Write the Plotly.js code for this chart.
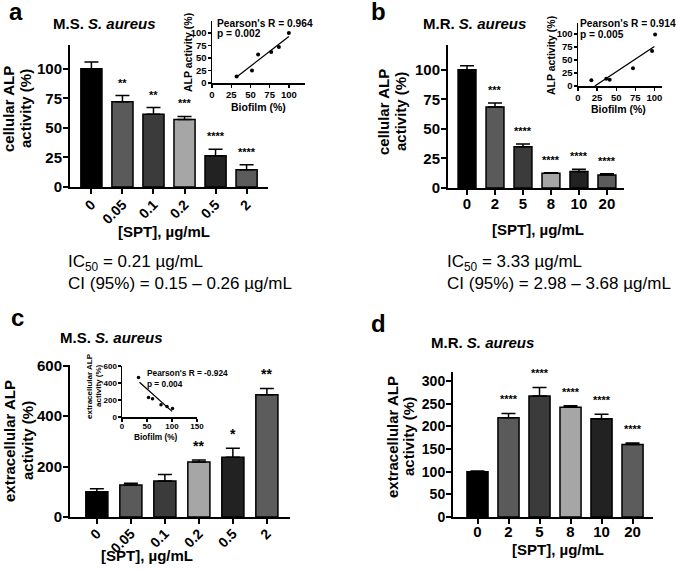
<!DOCTYPE html>
<html><head><meta charset="utf-8">
<script src="https://cdn.plot.ly/plotly-3.0.1.min.js"></script>
<style>body{margin:0;background:#fff}#chart{width:676px;height:570px}</style>
</head><body><div id="chart"></div>
<script>
// ---------- data ----------
const catsA = ['0','0.05','0.1','0.2','0.5','2'];
const catsB = ['0','2','5','8','10','20'];
const meanA = [100, 72, 61.5, 57, 26.5, 14.5];
const errA  = [5.7, 5.3, 5.6, 2.6, 5.4, 4.3];
const starsA = ['', '**', '**', '***', '****', '****'];
const meanB = [100, 68.5, 35, 12.4, 14, 11];
const errB  = [3.4, 3.5, 2.2, 0.6, 1.8, 1.1];
const starsB = ['', '***', '****', '****', '****', '****'];
const meanC = [100, 127, 143, 218, 237, 485];
const errC  = [12, 7, 26, 8, 36, 25];
const starsC = ['', '', '', '**', '*', '**'];
const meanD = [100, 219, 267, 242, 217, 160];
const errD  = [1.5, 9.5, 19, 3.5, 9.5, 3.5];
const starsD = ['', '****', '****', '****', '****', '****'];

const insetABiofilm = [32, 52, 60, 77, 87, 100];
const insetAALP     = [13, 25, 57, 62, 72, 100];
const insetAFitX = [32, 100], insetAFitY = [12, 93];
const insetBBiofilm = [17.5, 37, 41.5, 72, 97, 101];
const insetBALP     = [11, 14, 12, 34, 67, 99];
const insetBFitX = [22, 100], insetBFitY = [0, 76];
const insetCBiofilm = [33, 53, 61, 78, 90, 101];
const insetCALP     = [464, 230, 214, 144, 125, 101];
const insetCFitX = [35, 100], insetCFitY = [409, 66];

const barColors = ['#000000', '#5a5a5a', '#3b3b3b', '#a6a6a6', '#222222', '#5c5c5c'];

// ---------- helpers ----------
const W = 676, H = 570;
const PX = p => p / W;
const PY = p => 1 - p / H;
const FONT = 'Liberation Sans, Arial, sans-serif';

function barTrace(cats, mean, err, xa, ya, w) {
  return {
    type: 'bar', x: cats, y: mean, xaxis: xa, yaxis: ya, width: w,
    marker: {color: barColors, line: {color: '#000', width: 1.5}},
    error_y: {type: 'data', symmetric: false, array: err, arrayminus: err.map(() => 0),
              color: '#000', thickness: 1.5, width: 7},
    hoverinfo: 'skip', showlegend: false
  };
}
function scatterTraces(x, y, fx, fy, xa, ya, ms) {
  return [
    {type: 'scatter', mode: 'markers', x: x, y: y, xaxis: xa, yaxis: ya,
     marker: {color: '#000', size: ms}, showlegend: false, cliponaxis: false},
    {type: 'scatter', mode: 'lines', x: fx, y: fy, xaxis: xa, yaxis: ya,
     line: {color: '#000', width: 1.3}, showlegend: false}
  ];
}

const data = [
  barTrace(catsA, meanA, errA, 'x', 'y', 0.68),
  barTrace(catsB, meanB, errB, 'x2', 'y2', 0.64),
  barTrace(catsA, meanC, errC, 'x3', 'y3', 0.65),
  barTrace(catsB, meanD, errD, 'x4', 'y4', 0.68),
  ...scatterTraces(insetABiofilm, insetAALP, insetAFitX, insetAFitY, 'x5', 'y5', 4),
  ...scatterTraces(insetBBiofilm, insetBALP, insetBFitX, insetBFitY, 'x6', 'y6', 4),
  ...scatterTraces(insetCBiofilm, insetCALP, insetCFitX, insetCFitY, 'x7', 'y7', 3.5)
];

function mainX(d0, d1, r, anchor, angle, fs, so) {
  return {domain: [PX(d0), PX(d1)], range: r, anchor: anchor, type: 'category',
    showline: true, linewidth: 2, linecolor: '#000', ticks: 'outside', ticklen: 5, tickwidth: 2,
    tickcolor: '#000', showgrid: false, zeroline: false, tickangle: angle, fixedrange: true,
    ticklabelstandoff: so,
    tickfont: {family: FONT, size: fs, color: '#000', weight: 700}};
}
function mainY(p0, p1, r, anchor, tv, fs) {
  return {domain: [PY(p0), PY(p1)], range: r, anchor: anchor, tickvals: tv,
    showline: true, linewidth: 2, linecolor: '#000', ticks: 'outside', ticklen: 5, tickwidth: 2,
    tickcolor: '#000', showgrid: false, zeroline: false, fixedrange: true,
    ticklabelstandoff: -2,
    tickfont: {family: FONT, size: fs, color: '#000', weight: 700}};
}
function insetX(d0, d1, r, anchor, tv, fs, so) {
  return {domain: [PX(d0), PX(d1)], range: r, anchor: anchor, tickvals: tv,
    showline: true, linewidth: 1.5, linecolor: '#000', ticks: 'outside', ticklen: 3, tickwidth: 1.3,
    tickcolor: '#000', showgrid: false, zeroline: false, fixedrange: true,
    ticklabelstandoff: so,
    tickfont: {family: FONT, size: fs, color: '#000', weight: 700}};
}
function insetY(p0, p1, r, anchor, tv, fs) {
  return {domain: [PY(p0), PY(p1)], range: r, anchor: anchor, tickvals: tv,
    showline: true, linewidth: 1.5, linecolor: '#000', ticks: 'outside', ticklen: 3, tickwidth: 1.3,
    tickcolor: '#000', showgrid: false, zeroline: false, fixedrange: true,
    ticklabelstandoff: -1,
    tickfont: {family: FONT, size: fs, color: '#000', weight: 700}};
}

const annotations = [];
function txt(text, x, y, size, opts) {
  annotations.push(Object.assign({text: text, x: PX(x), y: PY(y), xref: 'paper', yref: 'paper',
    showarrow: false, xanchor: 'center', yanchor: 'middle', borderpad: 0,
    font: {family: FONT, size: size, color: '#000'}}, opts || {}));
}
function stars(mean, err, st, xa, ya, size, shift) {
  st.forEach((s, i) => {
    if (!s) return;
    annotations.push({text: '<b>' + s + '</b>', x: i, y: mean[i] + err[i], xref: xa, yref: ya,
      showarrow: false, xanchor: 'center', yanchor: 'bottom', yshift: shift, borderpad: 0,
      font: {family: FONT, size: size, color: '#000'}});
  });
}
stars(meanA, errA, starsA, 'x', 'y', 11, 6);
stars(meanB, errB, starsB, 'x2', 'y2', 11, 6);
stars(meanC, errC, starsC, 'x3', 'y3', 14, 5);
stars(meanD, errD, starsD, 'x4', 'y4', 11, 7);

// panel letters
txt('<b>a</b>', 16, 12, 24);
txt('<b>b</b>', 378, 12, 24);
txt('<b>c</b>', 17, 317, 24);
txt('<b>d</b>', 378, 323, 24);
// titles
const ttl = s => '<b>' + s + ' <i>S. aureus</i></b>';
txt(ttl('M.S.'), 104, 23, 15);
txt(ttl('M.R.'), 474, 23, 15);
txt(ttl('M.S.'), 111, 337, 15);
txt(ttl('M.R.'), 482, 342, 15);
// y titles
txt('<b>cellular ALP</b>', 8, 109, 15, {textangle: -90});
txt('<b>activity (%)</b>', 25, 109, 15, {textangle: -90});
txt('<b>cellular ALP</b>', 384, 112, 15, {textangle: -90});
txt('<b>activity (%)</b>', 401, 112, 15, {textangle: -90});
txt('<b>extracellular ALP</b>', 9, 441, 15, {textangle: -90});
txt('<b>activity (%)</b>', 27, 441, 15, {textangle: -90});
txt('<b>extracellular ALP</b>', 392, 437, 15, {textangle: -90});
txt('<b>activity (%)</b>', 408, 437, 15, {textangle: -90});
// x titles
txt('<b>[SPT], µg/mL</b>', 164, 232, 15);
txt('<b>[SPT], µg/mL</b>', 538, 229, 15);
txt('<b>[SPT], µg/mL</b>', 147, 555, 15);
txt('<b>[SPT], µg/mL</b>', 558, 549, 15);
// IC50 text
txt('IC<sub>50</sub> = 0.21 µg/mL', 67, 263, 17, {xanchor: 'left'});
txt('CI (95%) = 0.15 – 0.26 µg/mL', 67, 283, 17, {xanchor: 'left'});
txt('IC<sub>50</sub> = 3.33 µg/mL', 446, 263, 17, {xanchor: 'left'});
txt('CI (95%) = 2.98 – 3.68 µg/mL', 446, 283, 17, {xanchor: 'left'});
// inset texts
txt("<b>Pearson's R = 0.964</b>", 216, 23, 10.2, {xanchor: 'left'});
txt('<b>p = 0.002</b>', 216, 34, 10.2, {xanchor: 'left'});
txt("<b>Pearson's R = 0.914</b>", 579, 23, 10.2, {xanchor: 'left'});
txt('<b>p = 0.005</b>', 579, 35, 10.2, {xanchor: 'left'});
txt("<b>Pearson's R = -0.924</b>", 146, 373, 8.3, {xanchor: 'left'});
txt('<b>p = 0.004</b>', 146, 384, 8.3, {xanchor: 'left'});
txt('<b>ALP activity (%)</b>', 188, 52, 10.5, {textangle: -90});
txt('<b>Biofilm (%)</b>', 258, 107, 10.5);
txt('<b>ALP activity (%)</b>', 551, 56, 10.5, {textangle: -90});
txt('<b>Biofilm (%)</b>', 618, 109, 10.5);
txt('<b>extracellular ALP</b>', 89, 386, 8, {textangle: -90});
txt('<b>activity (%)</b>', 98, 386, 8, {textangle: -90});
txt('<b>Biofilm (%)</b>', 156, 437, 8.3);

const layout = {
  width: W, height: H, autosize: false,
  margin: {l: 0, r: 0, t: 0, b: 0, pad: 0},
  paper_bgcolor: '#fff', plot_bgcolor: 'rgba(0,0,0,0)',
  showlegend: false, bargap: 0.32,
  font: {family: FONT, color: '#000'},
  xaxis:  mainX(70, 268, [-0.69, 5.69], 'y', -45, 14, -3),
  yaxis:  mainY(187, 45, [0, 120], 'x', [0, 25, 50, 75, 100], 15),
  xaxis2: mainX(448, 624, [-0.68, 5.61], 'y2', 0, 15, -4),
  yaxis2: mainY(188, 45, [0, 121], 'x2', [0, 25, 50, 75, 100], 15),
  xaxis3: mainX(70, 290, [-0.79, 5.68], 'y3', -45, 14, -4),
  yaxis3: mainY(517, 365, [0, 603], 'x3', [0, 200, 400, 600], 15),
  xaxis4: mainX(453, 653, [-0.79, 5.66], 'y4', 0, 15, -5),
  yaxis4: mainY(517, 372, [0, 320], 'x4', [0, 50, 100, 150, 200, 250, 300], 14),
  xaxis5: insetX(212, 305, [0, 121], 'y5', [0, 25, 50, 75, 100], 9.5, -1),
  yaxis5: insetY(83, 21, [0, 124], 'x5', [0, 25, 50, 75, 100], 9.5),
  xaxis6: insetX(578, 662, [0, 110], 'y6', [0, 25, 50, 75, 100], 9.5, -1),
  yaxis6: insetY(86, 23, [0, 121], 'x6', [0, 25, 50, 75, 100], 9.5),
  xaxis7: insetX(122, 197, [0, 150], 'y7', [0, 50, 100, 150], 8, -2),
  yaxis7: insetY(417, 366, [0, 600], 'x7', [0, 200, 400, 600], 8),
  annotations: annotations
};

Plotly.newPlot('chart', data, layout, {staticPlot: true, displayModeBar: false});
</script>
</body></html>
